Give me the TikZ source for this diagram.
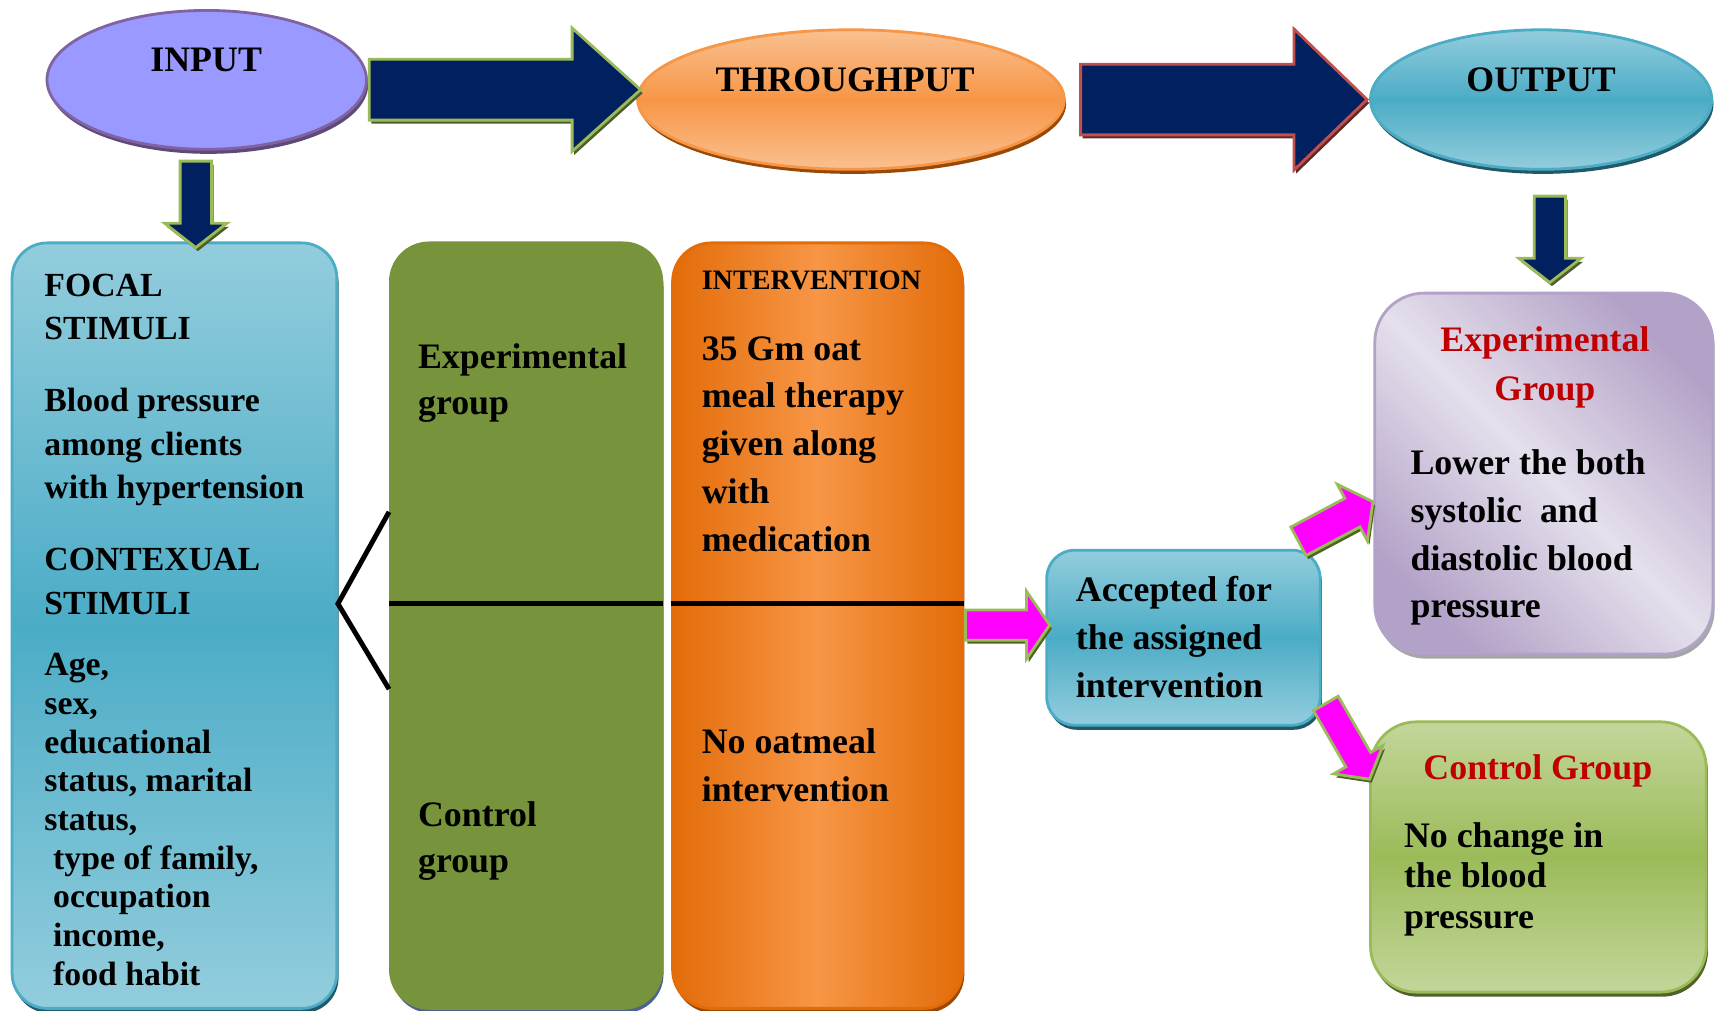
\documentclass[tikz,border=0pt]{standalone}
\usepackage{fontspec}
\setmainfont{Liberation Serif}
\usetikzlibrary{shapes,shapes.arrows,shadows,calc}

\definecolor{navy}{HTML}{002060}
\definecolor{leaf}{HTML}{9BBB59}
\definecolor{leafdark}{HTML}{4F6228}
\definecolor{brick}{HTML}{C0504D}
\definecolor{fuchsia}{HTML}{FF00FF}
\definecolor{periwinkle}{HTML}{9999FF}
\definecolor{plum}{HTML}{8064A2}
\definecolor{plumdark}{HTML}{5F497A}
\definecolor{peach}{HTML}{FAC090}
\definecolor{tangerine}{HTML}{F79646}
\definecolor{rust}{HTML}{984807}
\definecolor{sky}{HTML}{93CDDD}
\definecolor{aqua}{HTML}{4BACC6}
\definecolor{deepteal}{HTML}{215968}
\definecolor{moss}{HTML}{77933C}
\definecolor{pumpkin}{HTML}{E36C09}
\definecolor{lilac}{HTML}{E5E0EC}
\definecolor{mauve}{HTML}{B3A2C7}
\definecolor{pistachio}{HTML}{C3D69B}
\definecolor{crimson}{HTML}{C00000}

\begin{document}
\begin{tikzpicture}[x=0.3112pt,y=0.3112pt,
stage/.style={
ellipse,
draw,
thick,
inner sep=0pt,
minimum height=39.7pt
},
box/.style={
rectangle,
draw,
thick,
inner sep=0pt,
rounded corners=11pt,
minimum height=217.8pt
},
lift/.style={drop shadow={shadow xshift=0.5pt,shadow yshift=-1.3pt,fill=#1,opacity=1}},
title/.style={anchor=base,inner sep=0pt,font=\bfseries\fontsize{10.2}{12}\selectfont},
txt/.style args={#1/#2}{anchor=base west,align=left,inner sep=0pt,font=\bfseries\fontsize{#1}{#2}\selectfont},
redtxt/.style={anchor=base,align=center,inner sep=0pt,text=crimson,font=\bfseries\fontsize{10.2}{13.7}\selectfont},
arrowbase/.style={single arrow,inner xsep=0pt,line width=0.8pt},
bigarrow/.style={arrowbase,fill=navy,draw=#1,drop shadow={shadow xshift=0.6pt,shadow yshift=-1pt,fill=#1!50!black,opacity=1}},
pinkarrow/.style={arrowbase,fill=fuchsia,draw=leaf,drop shadow={shadow xshift=0.6pt,shadow yshift=-1pt,fill=leafdark,opacity=1}},
split/.style={line width=1.4pt}
]
\useasboundingbox (0,0) rectangle (1568,-924);

% top row
\node[stage,lift=plumdark,draw=plum,fill=periwinkle,minimum width=90.9pt,minimum height=39.5pt] (input) at (189,-73) {};
\node[stage,lift=rust,draw=tangerine,top color=peach,bottom color=peach,middle color=tangerine,minimum width=121.4pt] (through) at (778,-91) {};
\node[stage,lift=deepteal,draw=aqua,top color=sky,bottom color=sky,middle color=aqua,minimum width=97.1pt] (output) at (1409,-91) {};
\node[title] (inputlbl) at (188.5,-65.5) {INPUT};
\node[title] (throughlbl) at (772.6,-83.8) {THROUGHPUT};
\node[title] (outputlbl) at (1409,-83.8) {OUTPUT};

% boxes
\node[box,lift=deepteal,draw=aqua,top color=sky,bottom color=sky,middle color=aqua,minimum width=92.4pt,rounded corners=10pt] (focal) at (159.5,-572) {};
\node[box,lift=navy!70,draw=moss,fill=moss,minimum width=77.2pt] (groups) at (481,-572) {};
\node[box,lift=rust,draw=pumpkin,left color=pumpkin,right color=pumpkin,middle color=tangerine,minimum width=82.5pt] (interv) at (747.5,-572) {};
\node[box,lift=deepteal,draw=aqua,top color=sky,bottom color=sky,middle color=aqua,minimum width=77.8pt,minimum height=49.8pt,rounded corners=8pt] (accepted) at (1082,-583) {};
\node[box,lift=gray!70,draw=mauve,top color=mauve,bottom color=mauve,middle color=lilac,shading angle=-45,minimum width=96.2pt,minimum height=102.7pt,rounded corners=14pt] (expout) at (1411.5,-433) {};
\node[box,lift=leafdark,draw=leaf,top color=pistachio,bottom color=pistachio,middle color=leaf,minimum width=95.5pt,minimum height=76.9pt,rounded corners=13pt] (ctrlout) at (1406.5,-783.5) {};

% block arrows
\node[bigarrow=leaf,anchor=tail,inner ysep=8.25pt,minimum height=77.2pt,minimum width=34.2pt,single arrow head extend=8.9pt,single arrow tip angle=84] (inarrow) at ($(input.east)+(0,-9)$) {};
\node[bigarrow=brick,anchor=tip,inner ysep=9.65pt,minimum height=81.5pt,minimum width=39.2pt,single arrow head extend=10pt,single arrow tip angle=88] (outarrow) at (output.west) {};
\node[bigarrow=leaf,anchor=tail,rotate=-90,inner ysep=4.05pt,minimum height=24.6pt,minimum width=16.8pt,single arrow head extend=4.4pt,single arrow tip angle=104] (indown) at (179,-146) {};
\node[bigarrow=leaf,anchor=tail,rotate=-90,inner ysep=4.05pt,minimum height=24.6pt,minimum width=16.8pt,single arrow head extend=4.4pt,single arrow tip angle=104] (outdown) at (1417,-178) {};
\node[pinkarrow,anchor=tail,inner ysep=3.9pt,minimum height=24pt,minimum width=18.4pt,single arrow head extend=5.3pt,single arrow tip angle=111] (toaccept) at (interv.east |- 0,-571.5) {};
\node[pinkarrow,anchor=tail,rotate=28,inner ysep=4.2pt,minimum height=24pt,minimum width=17.4pt,single arrow head extend=4.5pt,single arrow tip angle=108] (toexp) at (1186,-495.5) {};
\node[pinkarrow,anchor=tail,rotate=-60,inner ysep=3.67pt,minimum height=24.9pt,minimum width=15.6pt,single arrow head extend=4pt,single arrow tip angle=103] (toctrl) at (1211.5,-642) {};

% fork and dividers
\coordinate (fork) at (309,-552);
\draw[split] ($(groups.west)+(0,104)$) -- (fork) -- ($(groups.west)+(0,-58)$);
\draw[split] (groups.west |- fork) -- (groups.east |- fork);
\draw[split] (interv.west |- fork) -- (interv.east |- fork);

% texts (anchored at the baseline of the last line)
\node[txt=9.6/12.1pt] (focalhd) at (40,-310) {FOCAL\\STIMULI};
\node[txt=9.6/12.45pt] (focalbp) at (40,-456) {Blood pressure\\among clients\\with hypertension};
\node[txt=9.6/12.45pt] (ctxhd) at (40,-562) {CONTEXUAL\\STIMULI};
\node[txt=9.6/11pt] (ctxlist) at (40,-900.6) {Age,\\sex,\\educational\\status, marital\\status,\\\hspace*{2.5pt}type of family,\\\hspace*{2.5pt}occupation\\\hspace*{2.5pt}income,\\\hspace*{2.5pt}food habit};
\node[txt=10.2/13.2pt] (explbl) at (381.6,-379) {Experimental\\group};
\node[txt=10.2/13.1pt] (ctrllbl) at (381.6,-798) {Control\\group};
\node[txt=8/10pt] (intlbl) at (641,-264.5) {INTERVENTION};
\node[txt=10.2/13.6pt] (oattext) at (641,-504) {35 Gm oat\\meal therapy\\given along\\with\\medication};
\node[txt=10.2/13.6pt] (nooat) at (641,-733) {No oatmeal\\intervention};
\node[txt=10.2/13.7pt] (acctext) at (983,-638) {Accepted for\\the assigned\\intervention};
\node[redtxt] (expgrp) at (1412.5,-365.7) {Experimental\\Group};
\node[txt=10.2/13.6pt] (lowertext) at (1289,-565) {Lower the both\\systolic\ \ and\\diastolic blood\\pressure};
\node[redtxt] (ctrlgrp) at (1406,-713) {Control Group};
\node[txt=10.2/11.45pt] (nochange) at (1283,-848.6) {No change in\\the blood\\pressure};
\end{tikzpicture}
\end{document}
